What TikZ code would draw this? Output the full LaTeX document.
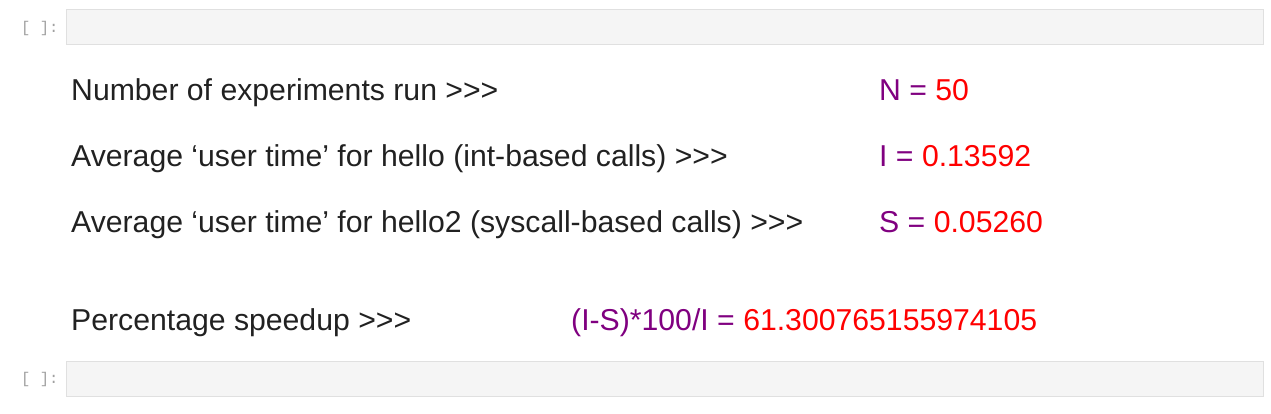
\documentclass[tikz,border=0pt]{standalone}
\usepackage{fontspec}
\newfontfamily\jfont{Liberation Sans}
\newfontfamily\jmono{Liberation Mono}
\usepackage{tikz}
\definecolor{jtext}{RGB}{33,33,33}
\definecolor{jpurple}{RGB}{128,0,128}
\definecolor{jred}{RGB}{255,0,0}
\definecolor{jcell}{RGB}{245,245,245}
\definecolor{jborder}{RGB}{224,224,224}
\definecolor{jprompt}{RGB}{160,160,160}
\newcommand{\result}[2]{\textcolor{jpurple}{#1 = }\textcolor{jred}{#2}}

\begin{document}
\begin{tikzpicture}[x=1pt,y=-1pt,
	txt/.style={anchor=base west, inner sep=0pt, text=jtext, font=\jfont\fontsize{30.2}{36}\selectfont},
	prompt/.style={anchor=base west, inner sep=0pt, text=jprompt, font=\jmono\fontsize{15.5}{18}\selectfont},
	cell/.style={anchor=north west, inner sep=0pt, fill=jcell, draw=jborder, line width=1pt,
		minimum width=1197pt, minimum height=35pt}]
	\useasboundingbox (0,0) rectangle (1271,414);

	% empty code cells
	\node[prompt] (p1) at (21,32.5) {[ ]:};
	\node[cell] (cell1) at (66,9.5) {};
	\node[prompt] (p2) at (21,383) {[ ]:};
	\node[cell] (cell2) at (66,361) {};

	% markdown lines
	\node[txt] (runs) at (71,100.7) {Number of experiments run >>>};
	\node[txt] (hello) at (71,166.5) {Average ‘user time’ for hello (int-based calls) >>>};
	\node[txt] (hello2) at (71,232.5) {Average ‘user time’ for hello2 (syscall-based calls) >>>};
	\node[txt] (speed) at (71,330) {Percentage speedup >>>};

	\node[txt] (N) at (879,100.7) {\result{N}{50}};
	\node[txt] (I) at (879,166.5) {\result{I}{0.13592}};
	\node[txt] (S) at (879,232.5) {\result{S}{0.05260}};
	\node[txt] (pct) at (571,330) {\result{(I-S)*100/I}{61.300765155974105}};

\end{tikzpicture}
\end{document}
